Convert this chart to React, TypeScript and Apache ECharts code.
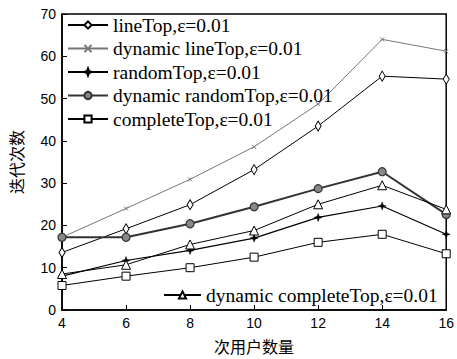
import React, { useEffect, useRef } from "react";
import * as echarts from "echarts";

const users = [4, 6, 8, 10, 12, 14, 16];
const lineTop = [13.6, 19.2, 24.9, 33.2, 43.5, 55.3, 54.6];
const dynLineTop = [17.2, 24.0, 30.9, 38.6, 48.7, 64.0, 61.2];
const randomTop = [8.0, 11.7, 14.1, 17.0, 21.9, 24.6, 17.9];
const dynRandomTop = [17.2, 17.2, 20.4, 24.4, 28.7, 32.7, 22.6];
const completeTop = [5.8, 8.0, 10.0, 12.5, 16.0, 17.9, 13.3];
const dynCompleteTop = [8.5, 10.7, 15.5, 18.8, 25.0, 29.5, 23.8];

const names = [
  "lineTop,\u03b5=0.01",
  "dynamic lineTop,\u03b5=0.01",
  "randomTop,\u03b5=0.01",
  "dynamic randomTop,\u03b5=0.01",
  "completeTop,\u03b5=0.01",
  "dynamic completeTop,\u03b5=0.01",
];

const STAR = "path://M5,0 L6.3,3.7 L10,5 L6.3,6.3 L5,10 L3.7,6.3 L0,5 L3.7,3.7 Z";
const CROSS = "path://M0,0 L10,10 M10,0 L0,10";

export default function App() {
  const ref = useRef<HTMLDivElement>(null);
  useEffect(() => {
    const chart = echarts.init(ref.current!, undefined, { renderer: "svg" });
    const pts = (ys: number[]) => users.map((x, i) => [x, ys[i]]);
    const serif = "'Liberation Serif', 'Times New Roman', serif";
    const legendText = { fontFamily: serif, fontSize: 19.5, color: "#000", lineHeight: 18 };
    const mk = (name: string, ys: number[], opts: any) => ({
      type: "line",
      name,
      data: pts(ys),
      showSymbol: true,
      ...opts,
    });
    chart.setOption({
      animation: false,
      grid: {
        left: 59,
        right: 10,
        top: 14,
        bottom: 43,
        show: true,
        borderColor: "#000",
        borderWidth: 1.5,
      },
      legend: [
        {
          orient: "vertical",
          left: 67,
          top: 15,
          padding: 0,
          itemWidth: 40,
          itemHeight: 9,
          itemGap: 3.5,
          textStyle: legendText,
          data: names.slice(0, 5),
        },
        {
          left: 163,
          top: 285,
          padding: 0,
          itemWidth: 37,
          itemHeight: 9,
          textStyle: legendText,
          data: [names[5]],
        },
      ],
      xAxis: {
        type: "value",
        min: 4,
        max: 16,
        interval: 2,
        name: "次用户数量",
        nameLocation: "middle",
        nameGap: 28,
        nameTextStyle: { fontFamily: "'Noto Sans CJK SC'", fontSize: 16, color: "#000" },
        axisLine: { lineStyle: { color: "#000", width: 1.5 } },
        axisTick: { inside: true, length: 5, lineStyle: { color: "#000" } },
        axisLabel: { fontFamily: "'Liberation Sans', Arial", fontSize: 14, color: "#000", margin: 6 },
        splitLine: { show: false },
      },
      yAxis: {
        type: "value",
        min: 0,
        max: 70,
        interval: 10,
        name: "迭代次数",
        nameLocation: "middle",
        nameGap: 38,
        nameTextStyle: { fontFamily: "'Noto Sans CJK SC'", fontSize: 16, color: "#000" },
        axisLine: { show: true, lineStyle: { color: "#000", width: 1.5 } },
        axisTick: { show: true, inside: true, length: 5, lineStyle: { color: "#000" } },
        axisLabel: { fontFamily: "'Liberation Sans', Arial", fontSize: 14, color: "#000", margin: 6 },
        splitLine: { show: false },
      },
      series: [
        mk(names[0], lineTop, {
          symbol: "diamond",
          symbolSize: [6, 10],
          itemStyle: { color: "#fff", borderColor: "#000", borderWidth: 1 },
          lineStyle: { color: "#000", width: 1 },
        }),
        mk(names[1], dynLineTop, {
          symbol: CROSS,
          symbolSize: 4,
          itemStyle: { color: "none", borderColor: "#777", borderWidth: 1 },
          lineStyle: { color: "#777", width: 1 },
        }),
        mk(names[2], randomTop, {
          symbol: STAR,
          symbolSize: 8,
          itemStyle: { color: "#000", borderColor: "#000", borderWidth: 0.5 },
          lineStyle: { color: "#000", width: 1.2 },
        }),
        mk(names[3], dynRandomTop, {
          symbol: "circle",
          symbolSize: 8,
          itemStyle: { color: "#888", borderColor: "#333", borderWidth: 1.2 },
          lineStyle: { color: "#333", width: 2 },
        }),
        mk(names[4], completeTop, {
          symbol: "rect",
          symbolSize: 8,
          itemStyle: { color: "#fff", borderColor: "#000", borderWidth: 1 },
          lineStyle: { color: "#000", width: 1 },
        }),
        mk(names[5], dynCompleteTop, {
          symbol: "triangle",
          symbolSize: 9,
          itemStyle: { color: "#fff", borderColor: "#000", borderWidth: 1 },
          lineStyle: { color: "#000", width: 1 },
        }),
      ],
    });
    return () => chart.dispose();
  }, []);
  return <div ref={ref} style={{ width: 457, height: 359, position: "absolute", left: 0, top: 0 }} />;
}
